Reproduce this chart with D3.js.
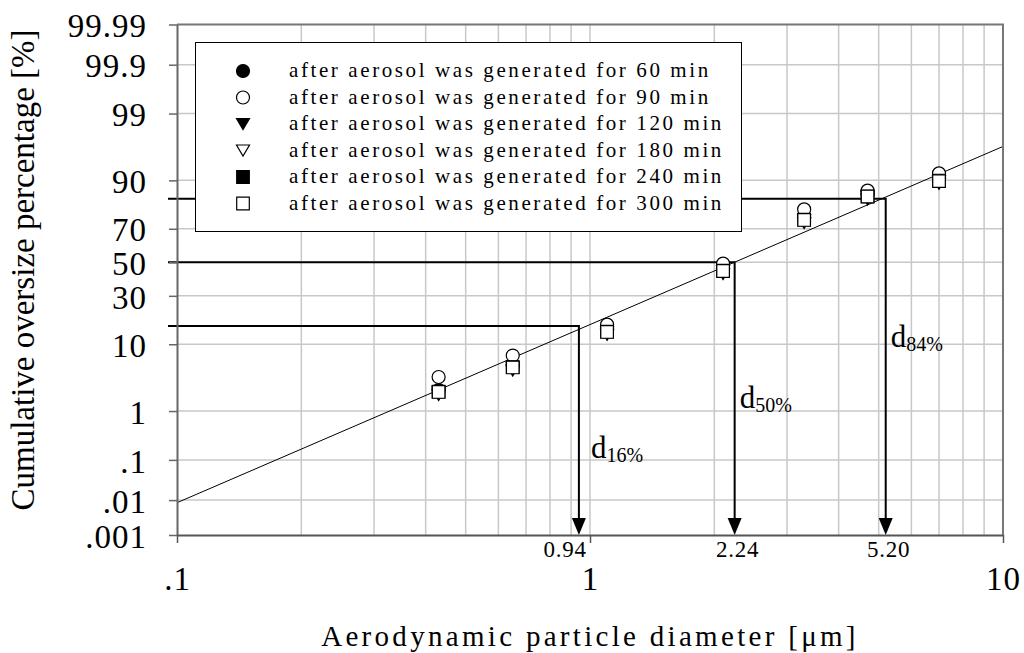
<!DOCTYPE html>
<html><head><meta charset="utf-8">
<script src="https://cdn.jsdelivr.net/npm/d3@7"></script>
<style>
html,body{margin:0;padding:0;background:#fff;}
svg{display:block;font-family:"Liberation Serif","Times New Roman",serif;}
</style></head><body>
<svg id="chart" width="1024" height="653"></svg>
<script>
// Cut-off diameters of the impactor stages (µm)
const diameters = [0.43, 0.65, 1.1, 2.1, 3.3, 4.7, 7.0];

// Cumulative oversize percentage (%) per sampling time
const oversize60  = [2.29, 5.33, 14.5, 45.8, 75.6, 85.5, 90.4];
const oversize90  = [3.64, 7.24, 16.5, 49.2, 79.6, 86.9, 91.8];
const oversize120 = [1.90, 4.53, 12.8, 42.7, 73.0, 83.7, 89.0];
const oversize180 = [2.10, 4.95, 13.7, 44.4, 74.4, 84.7, 89.7];
const oversize240 = [2.16, 5.05, 13.9, 44.8, 74.8, 84.9, 89.9];
const oversize300 = [2.13, 5.00, 13.8, 44.6, 74.6, 84.8, 89.8];

const seriesLabels = [
  "after aerosol was generated for 60 min",
  "after aerosol was generated for 90 min",
  "after aerosol was generated for 120 min",
  "after aerosol was generated for 180 min",
  "after aerosol was generated for 240 min",
  "after aerosol was generated for 300 min"
];
const seriesShapes = ["circle", "circle", "triangle", "triangle", "square", "square"];
const seriesFilled = [true, false, true, false, true, false];
const seriesValues = [oversize60, oversize90, oversize120, oversize180, oversize240, oversize300];

// Log-normal fit line (end points at the x-axis limits)
const fitDiameters = [0.1, 10];
const fitPercent = [0.0085, 96.5];

// Characteristic diameters
const guidePercent = [16, 50, 84];
const guideDiameters = [0.94, 2.24, 5.20];
const guideValueLabels = ["0.94", "2.24", "5.20"];
const guideSubscripts = ["16%", "50%", "84%"];

// Axis ticks
const yTickValues = [0.001, 0.01, 0.1, 1, 10, 30, 50, 70, 90, 99, 99.9, 99.99];
const yTickLabels = [".001", ".01", ".1", "1", "10", "30", "50", "70", "90", "99", "99.9", "99.99"];
const xTickValues = [0.1, 1, 10];
const xTickLabels = [".1", "1", "10"];

// Inverse of the standard normal CDF (Acklam's rational approximation)
function probit(p) {
  const a = [-3.969683028665376e+01, 2.209460984245205e+02, -2.759285104469687e+02, 1.383577518672690e+02, -3.066479806614716e+01, 2.506628277459239e+00];
  const b = [-5.447609879822406e+01, 1.615858368580409e+02, -1.556989798598866e+02, 6.680131188771972e+01, -1.328068155288572e+01];
  const c = [-7.784894002430293e-03, -3.223964580411365e-01, -2.400758277161838e+00, -2.549732539343734e+00, 4.374664141464968e+00, 2.938163982698783e+00];
  const d = [7.784695709041462e-03, 3.224671290700398e-01, 2.445134137142996e+00, 3.754408661907416e+00];
  const pl = 0.02425, ph = 1 - pl;
  let q, r;
  if (p < pl) {
    q = Math.sqrt(-2 * Math.log(p));
    return (((((c[0]*q+c[1])*q+c[2])*q+c[3])*q+c[4])*q+c[5]) / ((((d[0]*q+d[1])*q+d[2])*q+d[3])*q+1);
  }
  if (p <= ph) {
    q = p - 0.5; r = q * q;
    return (((((a[0]*r+a[1])*r+a[2])*r+a[3])*r+a[4])*r+a[5])*q / (((((b[0]*r+b[1])*r+b[2])*r+b[3])*r+b[4])*r+1);
  }
  q = Math.sqrt(-2 * Math.log(1 - p));
  return -(((((c[0]*q+c[1])*q+c[2])*q+c[3])*q+c[4])*q+c[5]) / ((((d[0]*q+d[1])*q+d[2])*q+d[3])*q+1);
}

const plot = {left: 177, right: 1003, top: 24.5, bottom: 535};

const x = d3.scaleLog().domain([0.1, 10]).range([plot.left, plot.right]);
const zScale = d3.scaleLinear()
  .domain([probit(0.001 / 100), probit(99.99 / 100)])
  .range([plot.bottom, plot.top]);
const y = pct => zScale(probit(pct / 100));

const svg = d3.select("#chart");

// Grid
const grid = svg.append("g").attr("stroke", "#c8c8c8").attr("stroke-width", 1.5);
x.ticks().filter(v => v > 0.1 && v < 10).forEach(v => {
  grid.append("line").attr("x1", x(v)).attr("x2", x(v)).attr("y1", plot.top).attr("y2", plot.bottom);
});
yTickValues.slice(1, -1).forEach(v => {
  grid.append("line").attr("x1", plot.left).attr("x2", plot.right).attr("y1", y(v)).attr("y2", y(v));
});

// Fit line
const fitPoints = fitDiameters.map((dv, i) => [x(dv), y(fitPercent[i])]);
svg.append("path")
  .attr("d", d3.line()(fitPoints))
  .attr("fill", "none").attr("stroke", "#000").attr("stroke-width", 1);

// Guide lines with arrows to the characteristic diameters
const guides = svg.append("g");
guidePercent.forEach((pv, i) => {
  const gx = x(guideDiameters[i]);
  const gy = y(pv);
  const arrowH = 17, arrowW = 7;
  guides.append("path")
    .attr("d", `M${plot.left - 9},${gy}H${gx}V${plot.bottom - arrowH + 1}`)
    .attr("fill", "none").attr("stroke", "#000").attr("stroke-width", 2);
  const p = d3.path();
  p.moveTo(gx - arrowW, plot.bottom - arrowH);
  p.lineTo(gx + arrowW, plot.bottom - arrowH);
  p.lineTo(gx, plot.bottom);
  p.closePath();
  guides.append("path").attr("d", p.toString()).attr("fill", "#000");
});

// Marker shapes
function symbolPath(shape, cx, cy) {
  const p = d3.path();
  if (shape === "circle") {
    p.moveTo(cx + 6.5, cy);
    p.arc(cx, cy, 6.5, 0, 2 * Math.PI);
  } else if (shape === "square") {
    p.rect(cx - 6.3, cy - 6.3, 12.6, 12.6);
  } else {
    p.moveTo(cx - 6.5, cy - 5.5);
    p.lineTo(cx + 6.5, cy - 5.5);
    p.lineTo(cx, cy + 5.5);
    p.closePath();
  }
  return p.toString();
}

// Data markers
const markers = svg.append("g");
seriesValues.forEach((vals, s) => {
  markers.selectAll(null)
    .data(vals.map((v, i) => ({d: diameters[i], v})))
    .join("path")
    .attr("d", pt => symbolPath(seriesShapes[s], x(pt.d), y(pt.v)))
    .attr("fill", seriesFilled[s] ? "#000" : "#fff")
    .attr("stroke", "#000").attr("stroke-width", 1.2);
});

// Guide labels
guideValueLabels.forEach((t, i) => {
  const gx = x(guideDiameters[i]);
  svg.append("text")
    .attr("x", i === 0 ? gx + 8 : gx + 3)
    .attr("y", 557)
    .attr("text-anchor", i === 0 ? "end" : "middle")
    .attr("font-size", 23).attr("letter-spacing", 0.8)
    .text(t);
});
const dLabelY = [458, 408, 347];
const dLabelDx = [12, 5, 5];
guideSubscripts.forEach((t, i) => {
  const lab = svg.append("text")
    .attr("x", x(guideDiameters[i]) + dLabelDx[i])
    .attr("y", dLabelY[i])
    .attr("font-size", 31);
  lab.append("tspan").text("d");
  lab.append("tspan").attr("font-size", 20).attr("dy", 4).text(t);
});

// Legend
const legend = svg.append("g");
legend.append("rect")
  .attr("x", 195.5).attr("y", 42.5).attr("width", 546).attr("height", 189)
  .attr("fill", "#fff").attr("stroke", "#000").attr("stroke-width", 1);
seriesLabels.forEach((lbl, s) => {
  const ly = 71 + s * 26.5;
  legend.append("path")
    .attr("d", symbolPath(seriesShapes[s], 243, ly))
    .attr("fill", seriesFilled[s] ? "#000" : "#fff")
    .attr("stroke", "#000").attr("stroke-width", 1.2);
  legend.append("text")
    .attr("x", 289).attr("y", ly + 6)
    .attr("font-size", 21).attr("letter-spacing", 2.6)
    .text(lbl);
});

// Frame and axes
const frame = svg.append("g").attr("fill", "none");
frame.append("path")
  .attr("d", `M${plot.left},${plot.top}H${plot.right}V${plot.bottom}`)
  .attr("stroke", "#777").attr("stroke-width", 2);

const yAxis = d3.axisLeft(zScale)
  .tickValues(yTickValues.map(v => probit(v / 100)))
  .tickFormat((d, i) => yTickLabels[i])
  .tickSize(8).tickSizeOuter(0).tickPadding(22);
const gy = svg.append("g").attr("transform", `translate(${plot.left},0)`).call(yAxis);
gy.select(".domain").attr("stroke", "#666").attr("stroke-width", 2);
gy.selectAll(".tick line").attr("stroke", "#666").attr("stroke-width", 1.5);
gy.selectAll(".tick text")
  .attr("font-family", "Liberation Serif, serif").attr("font-size", 33)
  .attr("letter-spacing", 1).attr("fill", "#000").attr("dy", "0.37em");

const xAxis = d3.axisBottom(x)
  .tickValues(xTickValues)
  .tickFormat((d, i) => xTickLabels[i])
  .tickSize(8).tickSizeOuter(0).tickPadding(24);
const gx = svg.append("g").attr("transform", `translate(0,${plot.bottom})`).call(xAxis);
gx.select(".domain").attr("stroke", "#555").attr("stroke-width", 2);
gx.selectAll(".tick line").attr("stroke", "#555").attr("stroke-width", 1.5);
gx.selectAll(".tick text")
  .attr("font-family", "Liberation Serif, serif").attr("font-size", 33)
  .attr("letter-spacing", 1).attr("fill", "#000");

// Axis titles
svg.append("text")
  .attr("x", 590).attr("y", 646)
  .attr("text-anchor", "middle")
  .attr("font-size", 29).attr("letter-spacing", 3.3)
  .text("Aerodynamic particle diameter [\u03bcm]");
svg.append("text")
  .attr("transform", "translate(34,270) rotate(-90)")
  .attr("text-anchor", "middle")
  .attr("font-size", 33)
  .text("Cumulative oversize percentage [%]");
</script>
</body></html>
